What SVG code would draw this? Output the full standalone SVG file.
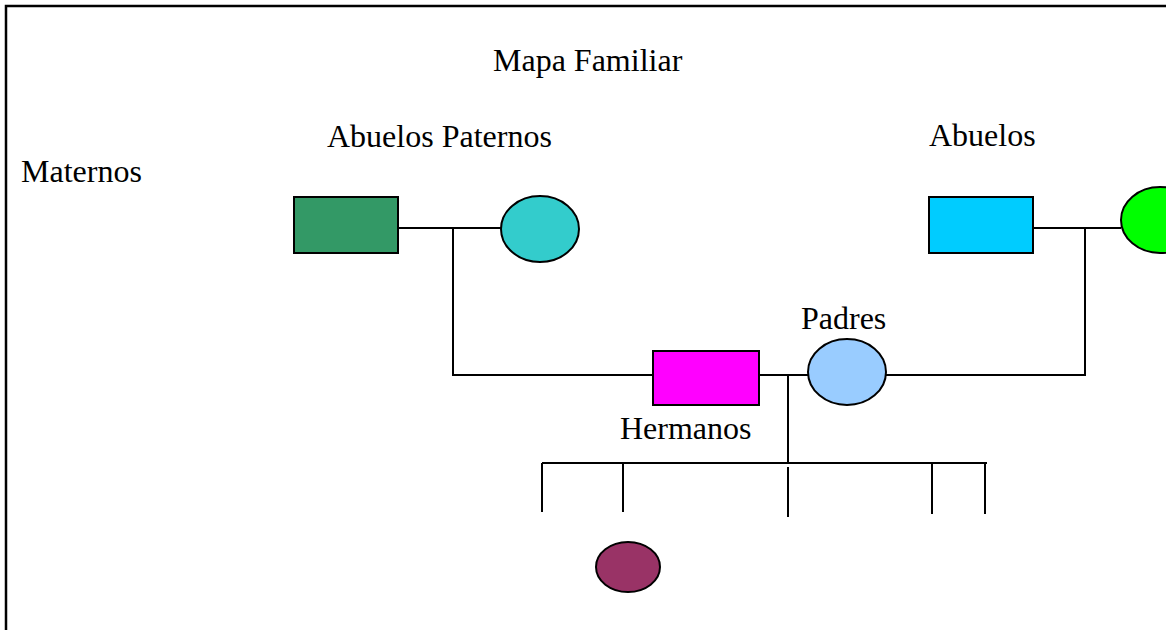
<svg xmlns="http://www.w3.org/2000/svg" width="1166" height="630" viewBox="0 0 1166 630">
  <style>
    .lbl { font-family: "Liberation Serif", "Times New Roman", serif; font-size: 32px; fill: #000; }
    .shape { stroke: #000; stroke-width: 2; }
    .link { stroke: #000; stroke-width: 2; fill: none; }
  </style>
  <rect x="0" y="0" width="1166" height="630" fill="#fff"/>
  <!-- page frame, continues past the right and bottom edges -->
  <rect id="frame" x="6" y="6" width="1180" height="640" fill="none" stroke="#000" stroke-width="2.5"/>

  <g id="titles">
    <text class="lbl" x="493" y="71">Mapa Familiar</text>
    <text class="lbl" x="327" y="147">Abuelos Paternos</text>
    <text class="lbl" x="929" y="146">Abuelos</text>
    <text class="lbl" x="21" y="182">Maternos</text>
  </g>

  <g id="connectors" class="link">
    <!-- paternal couple -->
    <line x1="398" y1="228" x2="501" y2="228"/>
    <line x1="453" y1="228" x2="453" y2="376"/>
    <!-- maternal couple -->
    <line x1="1033" y1="228" x2="1121" y2="228"/>
    <line x1="1085" y1="228" x2="1085" y2="376"/>
    <!-- parents line -->
    <line x1="453" y1="375" x2="653" y2="375"/>
    <line x1="759" y1="375" x2="808" y2="375"/>
    <line x1="886" y1="375" x2="1085" y2="375"/>
    <!-- descent to siblings -->
    <line x1="788" y1="375" x2="788" y2="463"/>
    <line x1="542" y1="463" x2="987" y2="463"/>
    <line x1="542" y1="463" x2="542" y2="512"/>
    <line x1="623" y1="463" x2="623" y2="512"/>
    <line x1="788" y1="467" x2="788" y2="517"/>
    <line x1="932" y1="463" x2="932" y2="514"/>
    <line x1="985" y1="463" x2="985" y2="514"/>
  </g>

  <g id="abuelo-paterno">
    <rect class="shape" x="294" y="197" width="104" height="56" fill="#339966"/>
  </g>
  <g id="abuela-paterna">
    <ellipse class="shape" cx="540" cy="229" rx="39" ry="33" fill="#33CCCC"/>
  </g>
  <g id="abuelo-materno">
    <rect class="shape" x="929" y="197" width="104" height="56" fill="#00CCFF"/>
  </g>
  <g id="abuela-materna">
    <ellipse class="shape" cx="1160" cy="220" rx="39" ry="33" fill="#00FF00"/>
  </g>

  <g id="padre">
    <rect class="shape" x="653" y="351" width="106" height="54" fill="#FF00FF"/>
  </g>
  <g id="madre">
    <ellipse class="shape" cx="847" cy="372" rx="39" ry="33" fill="#99CCFF"/>
    <text class="lbl" x="801" y="329">Padres</text>
  </g>

  <g id="hermanos">
    <text class="lbl" x="620" y="439">Hermanos</text>
    <ellipse class="shape" cx="628" cy="567" rx="32" ry="25" fill="#993366"/>
  </g>
</svg>
